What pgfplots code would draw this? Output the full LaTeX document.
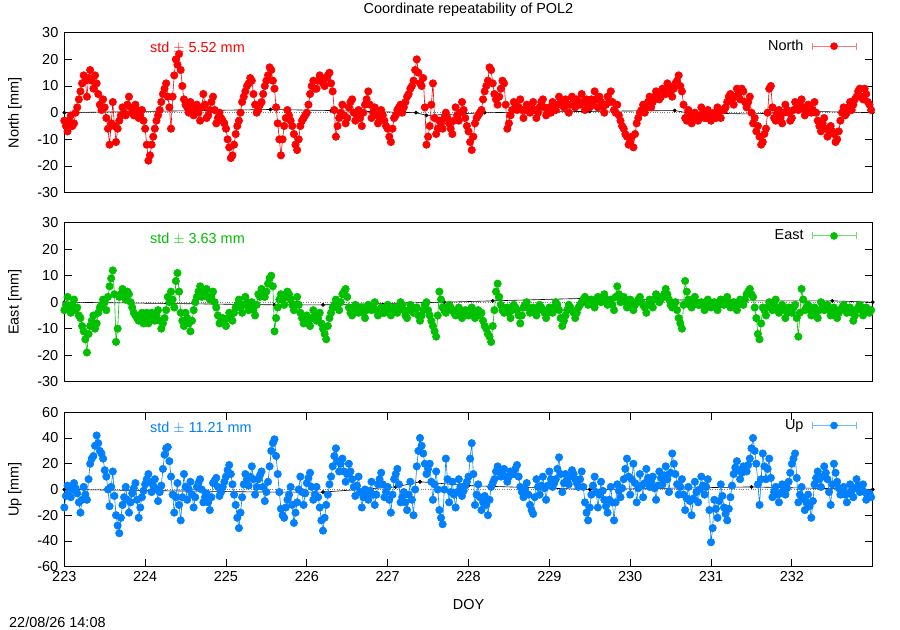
\documentclass[border=0pt]{standalone}
\usepackage{fontspec}
\setmainfont{Liberation Sans}
\usepackage{pgfplots}
\usepackage{pgfplotstable}
\pgfplotsset{compat=1.18}
\definecolor{cN}{HTML}{FF0000}
\definecolor{cNl}{HTML}{FF7878}
\definecolor{cE}{HTML}{00C000}
\definecolor{cEl}{HTML}{70DD70}
\definecolor{cU}{HTML}{0080FF}
\definecolor{cUl}{HTML}{70B8FF}
\pgfplotstableread{
x N E U
223.00 -3 -3 -14
223.02 -5 -1 -5
223.04 -7 2 3
223.06 -3 -2 -2
223.08 -1 -4 -6
223.10 -5 -1 0
223.12 -4 1 5
223.14 0 -3 1
223.16 2 -2 -3
223.18 5 -5 -10
223.20 8 -6 -18
223.22 11 -9 -8
223.24 14 -11 2
223.26 12 -14 -4
223.28 6 -19 -8
223.30 13 -12 8
223.32 16 -9 20
223.34 12 -7 24
223.36 9 -5 26
223.38 14 -10 34
223.40 11 -8 42
223.42 7 -4 36
223.44 3 -2 30
223.46 1 -1 28
223.48 5 1 24
223.50 2 0 15
223.52 -2 -3 10
223.54 -6 2 0
223.56 -12 6 -13
223.58 -4 9 2
223.60 4 12 14
223.62 -5 3 -5
223.64 -11 -15 -20
223.66 -6 -10 -28
223.68 -3 2 -34
223.70 -1 3 -22
223.72 2 5 -12
223.74 0 2 -6
223.76 -1 1 2
223.78 3 4 -8
223.80 6 3 -18
223.82 2 0 -10
223.84 0 -2 -3
223.86 -1 -4 1
223.88 3 -5 5
223.90 1 -6 -8
223.92 -2 -7 -22
223.94 -1 -5 -14
223.96 1 -4 -6
223.98 -3 -8 -1
224.00 -6 -6 4
224.02 -12 -4 8
224.04 -18 -8 12
224.06 -16 -6 6
224.08 -12 -4 -2
224.10 -9 -6 3
224.12 -6 -7 8
224.14 -3 -5 0
224.16 -1 -3 -9
224.18 1 -7 -2
224.20 4 -10 3
224.22 7 -8 16
224.24 9 -6 27
224.26 11 -3 32
224.28 6 2 33
224.30 2 0 22
224.32 -6 4 10
224.34 6 1 -4
224.36 14 -2 -18
224.38 20 8 -6
224.40 18 11 5
224.42 22 4 -12
224.44 16 -4 -24
224.46 10 -7 -6
224.48 5 -9 12
224.50 3 -4 2
224.52 2 -6 -8
224.54 0 -8 0
224.56 4 -11 6
224.58 2 -7 -4
224.60 -1 -3 -14
224.62 1 0 -6
224.64 3 2 2
224.66 0 4 5
224.68 -3 6 8
224.70 2 2 0
224.72 7 3 -10
224.74 3 4 -6
224.76 -2 5 -3
224.78 -1 2 -10
224.80 1 1 -16
224.82 4 2 -6
224.84 6 4 5
224.86 1 0 7
224.88 -4 -2 9
224.90 -2 -5 2
224.92 0 -8 -5
224.94 -2 -7 -2
224.96 -3 -6 2
224.98 -4 -7 6
225.00 -6 -9 10
225.02 -10 -6 15
225.04 -13 -4 19
225.06 -17 -5 12
225.08 -16 -7 4
225.10 -12 -4 -4
225.12 -8 -2 -12
225.14 -5 -1 -22
225.16 -3 1 -30
225.18 0 -2 -18
225.20 4 -4 -6
225.22 6 -1 4
225.24 8 2 12
225.26 10 0 8
225.28 11 -3 3
225.30 13 -2 10
225.32 12 0 18
225.34 7 -3 8
225.36 3 -5 -4
225.38 0 -1 2
225.40 1 3 8
225.42 3 2 11
225.44 4 5 14
225.46 7 3 2
225.48 10 2 -9
225.50 12 4 -2
225.52 14 7 6
225.54 17 9 18
225.56 16 10 30
225.58 12 6 36
225.60 9 -11 39
225.62 2 -6 26
225.64 -4 -2 12
225.66 -10 1 -2
225.68 -16 3 -15
225.70 -10 1 -20
225.72 -5 -1 -22
225.74 -2 2 -14
225.76 1 4 -8
225.78 -1 3 -4
225.80 -3 1 2
225.82 -5 -1 -12
225.84 -8 -3 -26
225.86 -12 -1 -18
225.88 -14 2 -10
225.90 -10 -1 0
225.92 -5 -4 10
225.94 -3 -6 -2
225.96 -2 -8 -12
225.98 -1 -7 -3
226.00 0 -5 5
226.02 3 -7 9
226.04 7 -9 13
226.06 10 -6 2
226.08 12 -3 -8
226.10 9 -5 -4
226.12 9 -7 2
226.14 12 -6 -6
226.16 14 -4 -14
226.18 13 -8 -24
226.20 11 -10 -32
226.22 10 -12 -22
226.24 13 -14 -12
226.26 14 -9 -4
226.28 15 -6 4
226.30 11 -4 10
226.32 8 -2 18
226.34 1 -1 26
226.36 -9 1 32
226.38 -5 -1 22
226.40 -2 -3 14
226.42 0 0 20
226.44 3 3 24
226.46 -1 4 14
226.48 -4 5 6
226.50 -2 2 12
226.52 2 -2 20
226.54 4 -4 14
226.56 5 -5 8
226.58 0 -3 2
226.60 -3 -1 -5
226.62 -1 -2 3
226.64 1 -4 10
226.66 -2 -3 -2
226.68 -5 -2 -14
226.70 0 -4 -6
226.72 3 -6 0
226.74 5 -3 -4
226.76 8 -1 -8
226.78 3 -2 -1
226.80 -2 -3 6
226.82 0 -2 -4
226.84 2 0 -12
226.86 -1 -3 -4
226.88 -4 -5 4
226.90 -2 -3 8
226.92 1 -2 13
226.94 -1 -4 4
226.96 -3 -4 -6
226.98 -5 -2 -2
227.00 -6 -1 2
227.02 -9 -3 -8
227.04 -11 -5 -18
227.06 -6 -3 -4
227.08 -2 -2 8
227.10 -1 -3 12
227.12 1 -4 16
227.14 2 -2 4
227.16 3 0 -10
227.18 0 -1 -6
227.20 2 -3 -2
227.22 4 -5 -10
227.24 6 -6 -16
227.26 7 -3 -4
227.28 9 -1 6
227.30 10 -2 -8
227.32 12 -4 -20
227.34 16 -3 0
227.36 20 -2 18
227.38 15 -5 30
227.40 11 -7 40
227.42 10 -5 34
227.44 13 -3 28
227.46 2 -1 20
227.48 -12 0 12
227.50 -9 -3 16
227.52 -5 -5 20
227.54 3 -7 6
227.56 11 -9 -8
227.58 -2 -11 4
227.60 -8 -13 14
227.62 -6 -5 0
227.64 -3 4 -16
227.66 -4 1 -22
227.68 -6 -2 -27
227.70 -2 -3 0
227.72 0 -4 24
227.74 -2 -2 8
227.76 -4 -1 -10
227.78 -6 -2 -2
227.80 -8 -3 6
227.82 -3 -4 -4
227.84 2 -5 -14
227.86 -1 -4 -2
227.88 -3 -2 8
227.90 0 -4 2
227.92 4 -6 -5
227.94 1 -4 -1
227.96 -2 -3 3
227.98 -5 -4 6
228.00 -7 -5 10
228.02 -11 -3 24
228.04 -14 -2 36
228.06 -9 -4 12
228.08 -4 -6 -12
228.10 -2 -4 -4
228.12 -1 -3 4
228.14 0 -5 -6
228.16 1 -4 -16
228.18 5 -7 -10
228.20 8 -9 -5
228.22 10 -10 -12
228.24 12 -12 -20
228.26 17 -13 -8
228.28 16 -15 2
228.30 11 -9 5
228.32 7 -3 8
228.34 5 4 14
228.36 3 7 18
228.38 6 2 14
228.40 9 -1 10
228.42 12 -3 13
228.44 11 -4 16
228.46 3 -3 10
228.48 -6 -2 6
228.50 -4 -4 10
228.52 -1 -6 14
228.54 1 -3 13
228.56 4 -1 12
228.58 3 -2 16
228.60 1 -3 19
228.62 2 -5 10
228.64 5 -8 2
228.66 1 -5 -2
228.68 -2 -2 -6
228.70 1 -1 0
228.72 3 0 5
228.74 2 -2 -4
228.76 0 -4 -12
228.78 2 -3 -16
228.80 4 -2 -19
228.82 1 -4 -6
228.84 -2 -5 8
228.86 0 -3 2
228.88 2 -1 -4
228.90 4 -2 3
228.92 5 -3 10
228.94 2 -4 1
228.96 -1 -6 -8
228.98 1 -4 3
229.00 2 -2 14
229.02 0 -3 8
229.04 4 -4 2
229.06 3 -2 5
229.08 1 0 8
229.10 3 -1 16
229.12 6 -3 25
229.14 4 -6 12
229.16 3 -9 -2
229.18 2 -7 5
229.20 5 -5 12
229.22 3 -3 8
229.24 0 -1 4
229.26 3 -2 10
229.28 6 -3 15
229.30 4 -4 12
229.32 2 -6 8
229.34 5 -4 5
229.36 4 -2 2
229.38 3 -1 8
229.40 7 0 14
229.42 4 1 2
229.44 1 2 -10
229.46 5 0 -18
229.48 3 -1 -24
229.50 2 0 -14
229.52 5 1 -4
229.54 3 -1 3
229.56 8 -2 10
229.58 5 0 -2
229.60 2 2 -14
229.62 6 1 -4
229.64 4 0 6
229.66 2 1 -1
229.68 0 3 -8
229.70 3 1 -13
229.72 6 -1 -18
229.74 4 0 -8
229.76 8 1 2
229.78 4 -1 -10
229.80 1 -3 -24
229.82 0 2 -10
229.84 3 6 4
229.86 -1 3 -1
229.88 -3 0 -6
229.90 -5 1 1
229.92 -6 2 8
229.94 -8 0 16
229.96 -9 -2 24
229.98 -12 -1 10
230.00 -11 1 -4
230.02 -9 -1 8
230.04 -13 -3 20
230.06 -8 -1 5
230.08 -4 0 -10
230.10 -2 1 1
230.12 0 2 12
230.14 1 0 3
230.16 3 -1 -6
230.18 0 -2 5
230.20 2 -4 16
230.22 4 -1 9
230.24 6 1 2
230.26 2 -1 6
230.28 4 -2 10
230.30 6 1 1
230.32 8 3 -8
230.34 7 1 3
230.36 5 0 14
230.38 6 1 9
230.40 9 2 4
230.42 8 3 11
230.44 7 5 18
230.46 11 3 8
230.48 10 1 -2
230.50 8 -1 13
230.52 6 -2 28
230.54 9 -1 20
230.56 11 0 12
230.58 12 -3 4
230.60 14 -6 -4
230.62 10 -8 2
230.64 8 -10 8
230.66 3 -1 -4
230.68 -2 8 -16
230.70 -3 4 -7
230.72 1 1 2
230.74 -1 -1 -9
230.76 -4 -2 -20
230.78 -2 0 -7
230.80 0 2 6
230.82 -1 0 -2
230.84 -3 -1 -10
230.86 -1 -1 0
230.88 2 0 10
230.90 0 -1 3
230.92 -2 -3 -4
230.94 -2 -1 2
230.96 1 1 8
230.98 -1 -1 -16
231.00 -3 -2 -41
231.02 -1 -1 -30
231.04 0 0 -8
231.06 -2 -1 -15
231.08 2 -3 -22
231.10 0 -1 -9
231.12 -2 1 4
231.14 1 0 -5
231.16 1 -1 -14
231.18 2 0 -19
231.20 4 2 -24
231.22 6 0 -15
231.24 7 -2 -6
231.26 5 -1 3
231.28 3 0 12
231.30 6 -1 17
231.32 9 -3 22
231.34 7 -1 15
231.36 5 1 8
231.38 9 0 13
231.40 8 -1 18
231.42 4 1 16
231.44 2 3 14
231.46 4 4 19
231.48 6 5 24
231.50 0 3 32
231.52 -4 2 40
231.54 -2 -2 30
231.56 -7 -6 20
231.58 -5 -12 4
231.60 -9 -14 -12
231.62 -12 -8 8
231.64 -11 -2 28
231.66 -8 -3 18
231.68 -6 -5 8
231.70 0 -2 16
231.72 9 0 24
231.74 10 -1 9
231.76 2 -3 -6
231.78 -2 -1 -2
231.80 -3 1 2
231.82 0 -2 -4
231.84 1 -4 -10
231.86 -2 -2 -3
231.88 -4 -1 4
231.90 0 -3 0
231.92 3 -6 -4
231.94 1 -4 1
231.96 0 -2 6
231.98 -3 -3 13
232.00 -2 -4 20
232.02 1 -2 24
232.04 4 -1 28
232.06 2 -6 9
232.08 1 -13 -10
232.10 3 -4 -4
232.12 5 5 2
232.14 2 1 -7
232.16 -1 -3 -16
232.18 1 -2 -10
232.20 3 -1 -4
232.22 2 -3 -13
232.24 0 -5 -22
232.26 1 -3 -9
232.28 4 -2 4
232.30 0 -4 9
232.32 -3 -6 14
232.34 -5 -3 8
232.36 -7 0 2
232.38 -4 -1 10
232.40 -2 -3 18
232.42 -6 -2 13
232.44 -9 -1 8
232.46 -7 -3 -2
232.48 -5 -5 -12
232.50 -7 -3 4
232.52 -8 -2 20
232.54 -11 -4 13
232.56 -10 -6 6
232.58 -7 -4 1
232.60 -3 -3 -4
232.62 0 -2 -1
232.64 2 -1 2
232.66 -1 -2 -4
232.68 0 -4 -10
232.70 2 -3 -3
232.72 4 -2 4
232.74 1 -4 -1
232.76 3 -7 -6
232.78 5 -5 1
232.80 6 -3 8
232.82 8 -2 3
232.84 9 -1 -2
232.86 6 -3 1
232.88 5 -5 4
232.90 9 -3 -2
232.92 7 -2 -8
232.94 4 -3 -5
232.96 3 -4 -3
232.98 1 -3 -6
}\data
\pgfplotsset{
  panel/.style={
    scale only axis, width=808.4bp,
    xmin=223, xmax=233,
    axis line style={line width=1.2bp},
    tick style={black, line width=0.8bp},
    major tick length=8bp,
    tick align=inside,
    clip=true,
    /pgf/number format/assume math mode=true,
    yticklabel style={xshift=-1bp},
    legend plot pos=right,
    legend cell align=right,
    legend style={draw=none, fill=none, at={(1,1)}, anchor=north east,
      xshift=-16bp, yshift=-5bp, inner sep=0pt, column sep=6bp},
  },
}
\begin{document}
\fontsize{14.5}{17}\selectfont
\begin{tikzpicture}[x=1bp,y=1bp]
\useasboundingbox (0,0) rectangle (900,630);
% ---------- North ----------
\begin{axis}[panel, at={(64.3bp,437.3bp)}, anchor=south west, height=160bp,
  ymin=-30, ymax=30, ytick={-30,-20,...,30}, xtick=\empty,
  legend image code/.code={
    \draw[cNl, line width=1bp] (0bp,0bp) -- (44bp,0bp);
    \draw[cNl, line width=1bp] (0bp,-3.5bp) -- (0bp,3.5bp);
    \draw[cNl, line width=1bp] (44bp,-3.5bp) -- (44bp,3.5bp);
    \fill[cN] (22bp,0bp) circle (3.5bp);}]
\addplot[gray, dotted, forget plot] coordinates {(223,0) (233,0)};
\addplot[black, line width=0.6bp, mark=*, mark size=1.6bp, forget plot] coordinates {(223,0) (225.55,1.2) (226.3,0.8) (227.35,0) (227.48,-1) (228.2,0) (229.5,0.5) (230.55,0.8) (230.7,0) (231.5,-0.5) (232.2,0.5) (233,0)};
\addplot[cN, line width=0.6bp, mark=*, mark size=3.7bp,
  mark options={fill=cN, draw=cN}] table[x=x, y=N] {\data};
\addlegendentry{North}
\node[anchor=west, text=cN] at (axis description cs:0.1,0.904) {std $\pm$ 5.52 mm};
\end{axis}
% ---------- East ----------
\begin{axis}[panel, at={(64.3bp,248.3bp)}, anchor=south west, height=159bp,
  ymin=-30, ymax=30, ytick={-30,-20,...,30}, xtick=\empty,
  legend image code/.code={
    \draw[cEl, line width=1bp] (0bp,0bp) -- (44bp,0bp);
    \draw[cEl, line width=1bp] (0bp,-3.5bp) -- (0bp,3.5bp);
    \draw[cEl, line width=1bp] (44bp,-3.5bp) -- (44bp,3.5bp);
    \fill[cE] (22bp,0bp) circle (3.5bp);}]
\addplot[gray, dotted, forget plot] coordinates {(223,0) (233,0)};
\addplot[black, line width=0.6bp, mark=*, mark size=1.6bp, forget plot] coordinates {(223,0) (225.6,-1) (226.2,-1) (227.7,0) (228.3,0.5) (229.5,1.5) (231.2,0.5) (232.5,0.5) (233,0)};
\addplot[cE, line width=0.6bp, mark=*, mark size=3.7bp,
  mark options={fill=cE, draw=cE}] table[x=x, y=E] {\data};
\addlegendentry{East}
\node[anchor=west, text=cE] at (axis description cs:0.1,0.9) {std $\pm$ 3.63 mm};
\end{axis}
% ---------- Up ----------
\begin{axis}[panel, at={(64.3bp,63.3bp)}, anchor=south west, height=154.4bp,
  ymin=-60, ymax=60, ytick={-60,-40,...,60}, xtick={223,...,232},
  legend image code/.code={
    \draw[cUl, line width=1bp] (0bp,0bp) -- (44bp,0bp);
    \draw[cUl, line width=1bp] (0bp,-3.5bp) -- (0bp,3.5bp);
    \draw[cUl, line width=1bp] (44bp,-3.5bp) -- (44bp,3.5bp);
    \fill[cU] (22bp,0bp) circle (3.5bp);}]
\addplot[gray, dotted, forget plot] coordinates {(223,0) (233,0)};
\addplot[black, line width=0.6bp, mark=*, mark size=1.6bp, forget plot] coordinates {(223,0) (225.5,-2) (226.2,-2) (227.1,2) (227.4,6) (228,3) (229.5,0) (231.5,2) (233,0)};
\addplot[cU, line width=0.6bp, mark=*, mark size=3.7bp,
  mark options={fill=cU, draw=cU}] table[x=x, y=U] {\data};
\addlegendentry{Up}
\node[anchor=west, text=cU] at (axis description cs:0.1,0.9) {std $\pm$ 11.21 mm};
\end{axis}
% ---------- texts ----------
\node at (468.5,620) {Coordinate repeatability of POL2};
\node[rotate=90] at (15,517.3) {North [mm]};
\node[rotate=90] at (15,327.8) {East [mm]};
\node[rotate=90] at (15,140.5) {Up [mm]};
\node at (468.5,25) {DOY};
\node[anchor=west, inner sep=0pt] at (9,8) {22/08/26 14:08};
\end{tikzpicture}
\end{document}
